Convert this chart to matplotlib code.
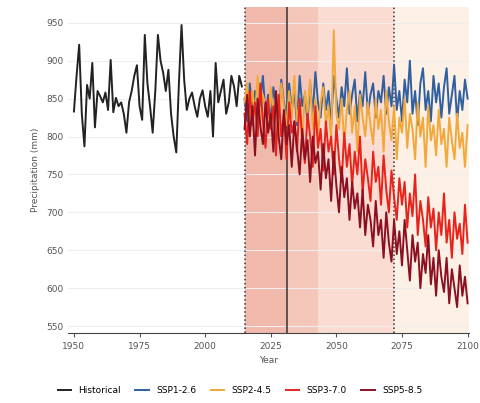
import numpy as np
import matplotlib
matplotlib.use("Agg")
import matplotlib.pyplot as plt

##--------------------##
## Data (annual precipitation, mm)
##--------------------##

hist_years = list(range(1950, 2015))
hist_vals = [833, 880, 921, 830, 787, 868, 850, 897, 812, 860,
             853, 845, 858, 835, 901, 832, 851, 840, 845, 830,
             805, 845, 860, 880, 894, 840, 822, 934, 870, 840,
             805, 860, 934, 900, 884, 860, 888, 830, 800, 779,
             870, 947, 875, 835, 850, 858, 840, 826, 850, 861,
             840, 826, 860, 800, 897, 845, 860, 875, 830, 845,
             880, 866, 840, 880, 866]

fut_years = list(range(2015, 2101))

ssp126 = [850, 820, 870, 835, 860, 815, 845, 880, 830, 855,
          820, 865, 840, 810, 875, 845, 825, 870, 835, 860,
          815, 880, 840, 855, 820, 870, 830, 885, 845, 825,
          870, 835, 860, 815, 880, 850, 825, 865, 840, 890,
          830, 855, 875, 820, 860, 840, 885, 830, 855, 870,
          825, 860, 845, 880, 830, 865, 840, 895, 835, 860,
          820, 875, 845, 900, 830, 860, 815, 870, 890, 835,
          860, 820, 880, 845, 870, 825, 865, 890, 830, 855,
          880, 820, 860, 835, 875, 850]

ssp245 = [845, 870, 815, 860, 830, 880, 820, 855, 840, 810,
          865, 830, 850, 800, 870, 840, 815, 860, 825, 880,
          820, 845, 790, 860, 830, 875, 810, 850, 800, 845,
          865, 815, 840, 795, 940, 830, 810, 850, 790, 835,
          860, 805, 840, 780, 855, 825, 800, 845, 815, 790,
          850, 810, 835, 780, 860, 820, 795, 840, 770, 825,
          805, 850, 785, 830, 810, 770, 845, 800, 825, 760,
          840, 795, 815, 775, 835, 790, 810, 760, 825, 795,
          770, 830, 785, 805, 760, 815]

ssp370 = [830, 790, 860, 815, 845, 800, 870, 820, 785, 850,
          810, 840, 775, 855, 800, 830, 770, 845, 805, 820,
          780, 850, 795, 765, 830, 800, 760, 840, 785, 810,
          755, 820, 780, 800, 750, 815, 770, 740, 805, 760,
          790, 735, 780, 750, 800, 725, 770, 745, 715, 780,
          740, 760, 710, 775, 730, 700, 755, 720, 690, 745,
          710, 740, 680, 725, 695, 750, 670, 715, 690, 655,
          720, 680, 705, 650, 700, 670, 725, 660, 690, 640,
          700, 665, 685, 645, 710, 660]

ssp585 = [810, 855, 800, 840, 775, 850, 815, 790, 845, 805,
          830, 780, 860, 800, 770, 835, 790, 815, 760, 820,
          785, 750, 810, 770, 795, 740, 800, 765, 780, 730,
          790, 745, 770, 715, 780, 735, 700, 760, 720, 745,
          690, 740, 705, 725, 680, 730, 670, 710, 690, 655,
          715, 670, 690, 640, 700, 660, 635, 690, 645, 675,
          630, 690, 650, 610, 670, 635, 660, 600, 645, 620,
          670, 605, 640, 590, 650, 615, 595, 640, 580, 625,
          600, 575, 630, 590, 615, 580]

scen_names = ["SSP1-2.6", "SSP2-4.5", "SSP3-7.0", "SSP5-8.5"]
scen_vals = [ssp126, ssp245, ssp370, ssp585]
scen_colors = ["#2f5f9e", "#f2a83a", "#e8231c", "#8c1020"]

# period boundaries (years)
bounds = [2015, 2031, 2043, 2072, 2101]
shade_colors = ["#f1b9ab", "#f5c7bb", "#fbdcd3", "#fdf1e6"]
vlines = [(2015, ":"), (2031, "-"), (2072, ":")]

##--------------------##
## Plot
##--------------------##

fig = plt.figure(figsize=(4.8, 4.03), dpi=100)
ax = fig.add_axes([0.142, 0.174, 0.836, 0.809])

for i in range(len(shade_colors)):
    ax.axvspan(bounds[i], bounds[i + 1], color=shade_colors[i], lw=0, zorder=0)

for yr, ls in vlines:
    ax.axvline(yr, color="#333333", ls=ls, lw=1.1, zorder=1)

ax.plot(hist_years, hist_vals, color="#222222", lw=1.4, label="Historical", zorder=3)
for name, vals, col in zip(scen_names, scen_vals, scen_colors):
    ax.plot(fut_years, vals, color=col, lw=1.4, label=name, zorder=3)

ax.set_xlim(1947.8, 2100.7)
ax.set_ylim(541, 971)
ax.set_xticks([1950, 1975, 2000, 2025, 2050, 2075, 2100])
ax.set_yticks(np.arange(550, 951, 50))
ax.tick_params(labelsize=6.5, colors="#555555", length=3)
ax.tick_params(axis="y", length=0)
ax.grid(axis="y", color="#eeeeee", lw=0.8, zorder=0)
ax.set_axisbelow(True)
for s in ["top", "right", "left"]:
    ax.spines[s].set_visible(False)
ax.spines["bottom"].set_color("#444444")

ax.set_xlabel("Year", fontsize=6.5, color="#555555")
ax.set_ylabel("Precipitation (mm)", fontsize=6.5, color="#555555")

fig.legend(loc="lower center", ncol=5, frameon=False, fontsize=6.5,
           bbox_to_anchor=(0.5, 0.0), handlelength=1.5, columnspacing=1.6)

plt.savefig("out.png", dpi=100)
